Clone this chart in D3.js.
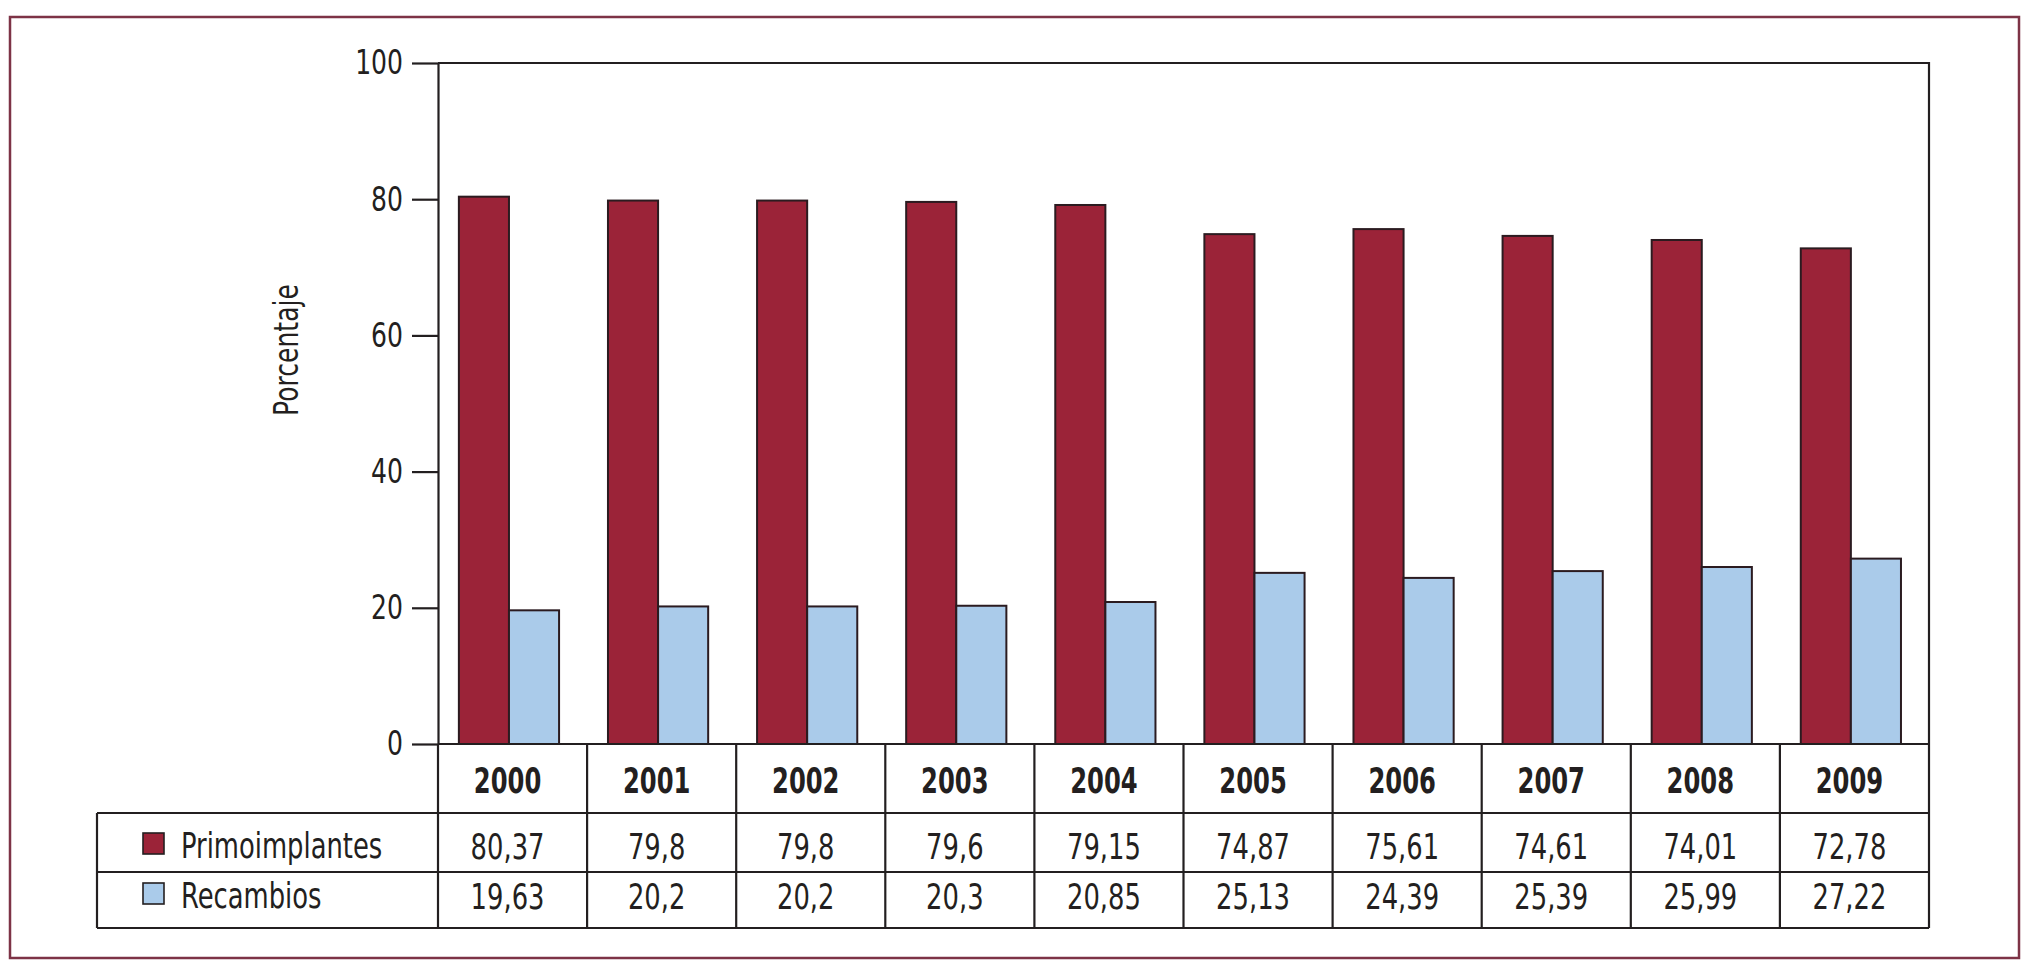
<!DOCTYPE html>
<html>
<head>
<meta charset="utf-8">
<script src="https://cdn.jsdelivr.net/npm/d3@7"></script>
<style>
  html, body { margin: 0; padding: 0; background: #fff; }
  svg { display: block; }
  text { font-family: "Liberation Sans Narrow", "Arial Narrow", "DejaVu Sans Condensed", "Roboto Condensed", sans-serif; fill: #231f20; }
</style>
</head>
<body>
<svg id="chart" width="2037" height="970"></svg>
<script>
const years = ["2000", "2001", "2002", "2003", "2004", "2005", "2006", "2007", "2008", "2009"];
const primoimplantes = [80.37, 79.8, 79.8, 79.6, 79.15, 74.87, 75.61, 74.61, 74.01, 72.78];
const recambios = [19.63, 20.2, 20.2, 20.3, 20.85, 25.13, 24.39, 25.39, 25.99, 27.22];
const seriesNames = ["Primoimplantes", "Recambios"];
const yTicks = [0, 20, 40, 60, 80, 100];
const yLabel = "Porcentaje";

const colors = ["#9b2338", "#aacbea"];
const ink = "#231f20";
const SX = 0.82, SXB = 0.77;

// narrow text horizontally (reference uses a condensed face)
function narrow(sel, sx) {
  sel.each(function () {
    const t = d3.select(this);
    const x0 = +t.attr("x") || 0;
    const prev = t.attr("transform") || "";
    t.attr("x", x0 / sx).attr("transform", (prev + ` scale(${sx},1)`).trim());
  });
}

const svg = d3.select("#chart");
svg.append("rect").attr("width", 2037).attr("height", 970).attr("fill", "#fff");

// outer frame
svg.append("rect")
  .attr("x", 10).attr("y", 17).attr("width", 2009).attr("height", 941)
  .attr("fill", "none").attr("stroke", "#7d3346").attr("stroke-width", 2.5);

const pLeft = 438, pRight = 1929, pTop = 63, pBottom = 744;
const rowYs = [744, 813, 872, 928];
const tableLeft = 97;

const x = d3.scaleBand().domain(years).range([pLeft, pRight]).padding(0);
const bw = x.bandwidth();
const y = d3.scaleLinear().domain([0, 100]).range([pBottom, pTop]);

const series = [primoimplantes, recambios];
const fmt = v => String(v).replace(".", ",");

// bars
const barOffset = bw * 0.14, barW = bw * 0.336;
series.forEach((vals, si) => {
  svg.append("g").selectAll("rect")
    .data(years.map((yr, i) => ({ yr, v: vals[i] })))
    .join("rect")
    .attr("x", d => x(d.yr) + barOffset + si * barW)
    .attr("y", d => y(d.v))
    .attr("width", barW)
    .attr("height", d => y(0) - y(d.v))
    .attr("fill", colors[si])
    .attr("stroke", "#2b1b20")
    .attr("stroke-width", 2);
});

// plot frame top & right
svg.append("path")
  .attr("d", `M${pLeft},${pTop}H${pRight}V${pBottom}`)
  .attr("fill", "none").attr("stroke", ink).attr("stroke-width", 2.2);

// y axis
const yAxis = svg.append("g")
  .attr("transform", `translate(${pLeft},0)`)
  .call(d3.axisLeft(y).tickValues(yTicks).tickSize(26).tickSizeOuter(0).tickPadding(9));
yAxis.select(".domain").attr("stroke", ink).attr("stroke-width", 2.2);
yAxis.selectAll(".tick line").attr("stroke", ink).attr("stroke-width", 2.2);
yAxis.selectAll(".tick text")
  .attr("font-size", 34)
  .attr("fill", ink)
  .style("font-family", "'Liberation Sans Narrow', 'Arial Narrow', 'DejaVu Sans Condensed', sans-serif")
  .call(narrow, SX);

// y label
svg.append("text")
  .attr("transform", "translate(298,350) rotate(-90)")
  .attr("text-anchor", "middle")
  .attr("font-size", 34)
  .text(yLabel)
  .call(narrow, SX);

// table lines
const tg = svg.append("g").attr("stroke", ink).attr("stroke-width", 2.2).attr("fill", "none");
tg.append("line").attr("x1", pLeft).attr("x2", pRight).attr("y1", rowYs[0]).attr("y2", rowYs[0]);
[1, 2, 3].forEach(r => {
  tg.append("line").attr("x1", tableLeft).attr("x2", pRight).attr("y1", rowYs[r]).attr("y2", rowYs[r]);
});
tg.append("line").attr("x1", tableLeft).attr("x2", tableLeft).attr("y1", rowYs[1]).attr("y2", rowYs[3]);
tg.selectAll("line.col")
  .data(years.map(d => x(d)).concat([pRight]))
  .join("line").attr("class", "col")
  .attr("x1", d => d).attr("x2", d => d)
  .attr("y1", rowYs[0]).attr("y2", rowYs[3]);

const cx = d => x(d) + bw / 2 - 5;

// year header
svg.append("g").selectAll("text")
  .data(years).join("text")
  .attr("x", cx).attr("y", 793)
  .attr("text-anchor", "middle")
  .attr("font-size", 35).attr("font-weight", "bold")
  .text(d => d)
  .call(narrow, SXB);

// values
const baselines = [859, 909];
series.forEach((vals, si) => {
  svg.append("g").selectAll("text")
    .data(years.map((yr, i) => ({ yr, v: vals[i] })))
    .join("text")
    .attr("x", d => cx(d.yr)).attr("y", baselines[si])
    .attr("text-anchor", "middle")
    .attr("font-size", 35)
    .text(d => fmt(d.v))
    .call(narrow, SX);
});

// legend in table
seriesNames.forEach((name, si) => {
  svg.append("rect")
    .attr("x", 143).attr("y", [833, 883][si])
    .attr("width", 21).attr("height", 21)
    .attr("fill", colors[si]).attr("stroke", ink).attr("stroke-width", 1.6);
  svg.append("text")
    .attr("x", 181).attr("y", baselines[si] - 1)
    .attr("font-size", 35)
    .text(name)
    .call(narrow, SX);
});
</script>
</body>
</html>
